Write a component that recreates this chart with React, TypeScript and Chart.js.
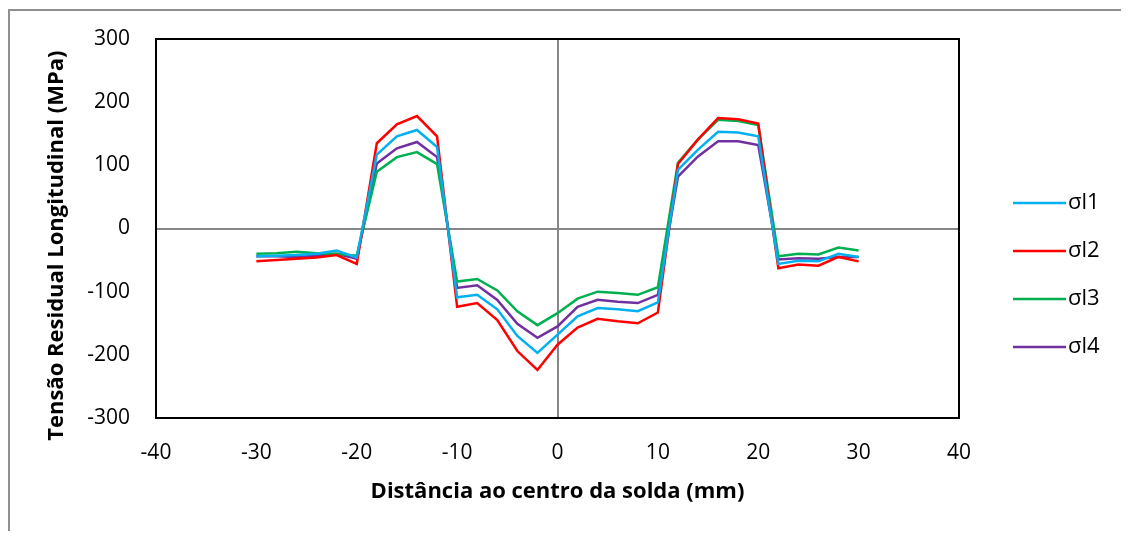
import React, { useEffect, useRef } from "react";
import { Chart, registerables } from "chart.js";

Chart.register(...registerables);

const xPositions = [-30, -28, -26, -24, -22, -20, -18, -16, -14, -12, -10, -8, -6, -4, -2, 0, 2, 4, 6, 8, 10, 12, 14, 16, 18, 20, 22, 24, 26, 28, 30];

const sigma1 = [-44, -43, -42, -40, -35, -46, 117, 146, 156, 129, -109, -105, -128, -170, -197, -168, -139, -126, -128, -131, -117, 93, 125, 153, 152, 146, -56, -51, -52, -40, -45];
const sigma2 = [-52, -50, -48, -46, -42, -56, 135, 165, 178, 146, -124, -118, -145, -194, -224, -184, -157, -143, -147, -150, -133, 102, 141, 175, 173, 166, -63, -57, -59, -45, -52];
const sigma3 = [-40, -39, -37, -39, -40, -43, 90, 113, 121, 102, -84, -80, -98, -131, -153, -134, -111, -100, -102, -105, -93, 104, 141, 172, 170, 164, -44, -40, -41, -30, -35];
const sigma4 = [-44, -44, -45, -43, -40, -48, 103, 127, 137, 113, -94, -90, -113, -151, -173, -155, -124, -113, -116, -118, -105, 82, 114, 138, 138, 132, -49, -47, -48, -45, -45];

const seriesLabels = ["σl1", "σl2", "σl3", "σl4"];
const seriesColors = ["#00B0F0", "#FF0000", "#00B050", "#7030A0"];

const xTitle = "Distância ao centro da solda (mm)";
const yTitle = "Tensão Residual Longitudinal (MPa)";

const CANVAS_W = 1113;
const CANVAS_H = 523;

const framePlugin = {
  id: "frameAndLegend",
  afterDraw(chart: any) {
    const { ctx, chartArea } = chart;
    ctx.save();
    ctx.strokeStyle = "#000000";
    ctx.lineWidth = 2;
    ctx.strokeRect(chartArea.left, chartArea.top, chartArea.right - chartArea.left, chartArea.bottom - chartArea.top);
    // legend
    const lineX0 = 1005;
    const lineX1 = 1058;
    const textX = 1060;
    const y0 = 195;
    const gap = 48;
    chart.data.datasets.forEach((ds: any, i: number) => {
      const y = y0 + i * gap;
      ctx.strokeStyle = ds.borderColor;
      ctx.lineWidth = 2.5;
      ctx.beginPath();
      ctx.moveTo(lineX0, y);
      ctx.lineTo(lineX1, y);
      ctx.stroke();
      ctx.fillStyle = "#000000";
      ctx.font = "22px 'Open Sans'";
      ctx.textBaseline = "middle";
      ctx.textAlign = "left";
      ctx.fillText(ds.label, textX, y);
    });
    ctx.restore();
  },
};

export default function App() {
  const ref = useRef<HTMLCanvasElement | null>(null);

  useEffect(() => {
    if (!ref.current) return;
    const series = [sigma1, sigma2, sigma3, sigma4];
    const chart = new Chart(ref.current, {
      type: "line",
      data: {
        datasets: series.map((vals, i) => ({
          label: seriesLabels[i],
          data: xPositions.map((x, j) => ({ x, y: vals[j] })),
          borderColor: seriesColors[i],
          backgroundColor: seriesColors[i],
          borderWidth: 2.5,
          pointRadius: 0,
          tension: 0,
          fill: false,
        })),
      },
      options: {
        animation: false,
        responsive: false,
        layout: { padding: { left: 0, top: 31, right: 162, bottom: 0 } },
        plugins: {
          legend: { display: false },
          tooltip: { enabled: false },
        },
        scales: {
          x: {
            type: "linear",
            min: -40,
            max: 40,
            ticks: {
              stepSize: 10,
              color: "#000000",
              font: { family: "'Open Sans'", size: 21 },
              padding: 22,
              maxRotation: 0,
            },
            grid: {
              drawTicks: false,
              lineWidth: 2,
              color: (c: any) => (c.tick && c.tick.value === 0 ? "#868686" : "rgba(0,0,0,0)"),
            },
            border: { display: false },
            title: {
              display: true,
              text: xTitle,
              color: "#000000",
              font: { family: "'Open Sans'", size: 22, weight: "bold" },
              padding: { top: 0, bottom: 26 },
            },
            afterFit: (scale: any) => {
              scale.height = 113;
            },
          },
          y: {
            min: -300,
            max: 300,
            ticks: {
              stepSize: 100,
              color: "#000000",
              font: { family: "'Open Sans'", size: 21 },
              padding: 16,
            },
            grid: {
              drawTicks: true,
              tickLength: 10,
              tickColor: "rgba(0,0,0,0)",
              lineWidth: 2,
              color: (c: any) => (c.tick && c.tick.value === 0 ? "#868686" : "rgba(0,0,0,0)"),
            },
            border: { display: false },
            title: {
              display: true,
              text: yTitle + "      ",
              color: "#000000",
              font: { family: "'Open Sans'", size: 22, weight: "bold" },
              padding: { top: 36, bottom: 0 },
            },
            afterFit: (scale: any) => {
              scale.width = 148;
            },
          },
        },
      },
      plugins: [framePlugin],
    });
    return () => chart.destroy();
  }, []);

  return (
    <div style={{ position: "relative", width: CANVAS_W, height: CANVAS_H, overflow: "hidden", background: "#ffffff" }}>
      <div
        style={{
          position: "absolute",
          left: 0,
          top: 1,
          width: CANVAS_W + 40,
          height: CANVAS_H + 40,
          borderLeft: "2px solid #8f8f8f",
          borderTop: "2px solid #8f8f8f",
          boxSizing: "border-box",
        }}
      />
      <canvas
        ref={ref}
        width={CANVAS_W}
        height={CANVAS_H}
        style={{ position: "absolute", left: 0, top: 0, display: "block" }}
      />
    </div>
  );
}
